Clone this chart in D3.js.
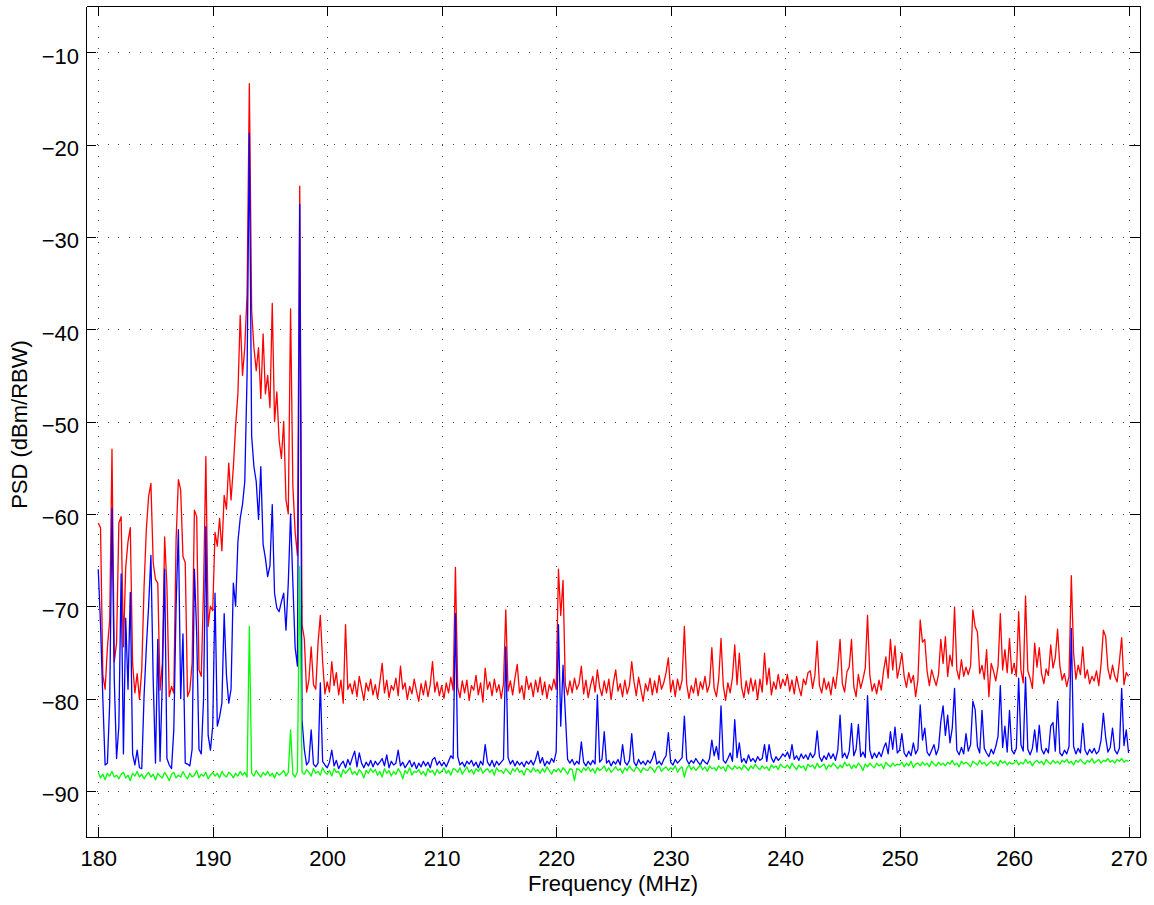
<!DOCTYPE html>
<html>
<head>
<meta charset="utf-8">
<script src="https://cdn.jsdelivr.net/npm/d3@7"></script>
<style>
  body { margin: 0; background: #fff; }
  svg { display: block; }
  text { font-family: "Liberation Sans", Arial, Helvetica, sans-serif; }
</style>
</head>
<body>
<div id="chart"></div>
<script>
// spectrum sampled every 0.2 MHz from 180 to 270 MHz (one row = 2 MHz)
const fStart = 180, fStep = 0.2;

const redPsd = [
  -61.0, -61.5, -77.5, -79.0, -74.5, -71.5, -53.0, -76.0, -74.0, -61.0, // 180
  -60.3, -74.4, -65.8, -63.0, -61.5, -76.2, -79.4, -77.3, -80.1, -76.9, // 182
  -68.0, -61.7, -58.1, -56.7, -65.3, -67.1, -67.5, -79.1, -76.2, -62.5, // 184
  -67.9, -79.8, -78.7, -79.4, -62.8, -56.3, -57.4, -64.6, -65.3, -79.8, // 186
  -79.1, -76.2, -59.6, -60.3, -76.9, -77.6, -68.0, -53.8, -72.2, -70.0, // 188
  -70.5, -62.0, -63.5, -60.5, -64.0, -58.0, -59.5, -54.5, -58.5, -55.0, // 190
  -50.5, -47.0, -38.5, -45.0, -42.0, -36.2, -13.4, -38.0, -42.0, -44.5, // 192
  -42.0, -47.5, -40.5, -47.0, -45.0, -48.5, -37.2, -50.0, -46.8, -52.0, // 194
  -54.0, -50.0, -58.5, -60.0, -37.8, -57.0, -62.0, -64.5, -24.5, -72.0, // 196
  -73.5, -79.3, -78.0, -74.4, -78.5, -79.0, -74.0, -71.0, -76.0, -79.5, // 198
  -78.2, -79.3, -76.0, -78.6, -77.2, -79.6, -78.0, -80.5, -72.0, -79.0, // 200
  -78.4, -79.5, -78.1, -79.8, -77.6, -78.9, -80.2, -78.3, -79.2, -77.9, // 202
  -79.6, -78.5, -80.0, -78.2, -76.2, -79.4, -78.0, -79.9, -78.6, -79.1, // 204
  -77.8, -79.7, -76.5, -79.0, -78.3, -80.1, -78.7, -79.5, -77.9, -79.2, // 206
  -80.3, -78.4, -79.6, -78.1, -79.8, -78.5, -76.0, -79.3, -78.2, -79.7, // 208
  -78.6, -80.0, -78.3, -79.4, -77.7, -79.1, -65.8, -78.8, -79.9, -78.1, // 210
  -79.4, -78.0, -80.2, -78.6, -79.1, -77.5, -79.6, -78.3, -80.4, -76.7, // 212
  -79.0, -78.2, -79.7, -77.9, -79.3, -78.5, -80.0, -78.4, -70.4, -79.2, // 214
  -78.1, -79.6, -77.8, -76.3, -79.4, -78.6, -80.1, -77.6, -79.0, -78.3, // 216
  -79.8, -78.0, -79.3, -77.7, -79.6, -78.2, -80.0, -78.5, -79.1, -77.9, // 218
  -79.0, -66.0, -71.0, -67.2, -78.5, -79.6, -78.1, -79.4, -77.8, -79.0, // 220
  -78.4, -76.5, -79.5, -78.0, -79.9, -78.6, -77.6, -79.3, -76.9, -78.8, // 222
  -79.7, -78.1, -79.4, -77.9, -80.1, -78.3, -76.9, -79.2, -78.4, -79.8, // 224
  -78.0, -79.5, -78.6, -76.0, -78.2, -79.7, -77.7, -79.0, -80.3, -78.4, // 226
  -79.2, -77.8, -79.6, -78.1, -79.4, -77.5, -79.0, -78.3, -77.2, -75.6, // 228
  -79.3, -78.0, -79.8, -77.9, -79.1, -78.0, -72.2, -78.4, -80.0, -78.6, // 230
  -79.4, -77.8, -79.7, -78.2, -79.0, -77.6, -79.3, -78.5, -74.5, -78.9, // 232
  -79.8, -77.9, -73.5, -78.6, -80.2, -78.3, -79.4, -77.7, -74.2, -78.5, // 234
  -75.1, -78.8, -79.9, -78.1, -79.5, -77.8, -79.2, -78.0, -80.1, -77.9, // 236
  -79.3, -75.1, -78.5, -76.7, -79.6, -78.2, -79.0, -77.4, -78.9, -77.9, // 238
  -78.6, -77.4, -79.2, -78.0, -79.5, -77.6, -78.8, -79.7, -77.9, -78.5, // 240
  -77.2, -77.0, -78.9, -77.5, -73.8, -78.6, -79.4, -77.8, -79.0, -78.2, // 242
  -79.6, -77.7, -78.9, -76.8, -73.6, -78.4, -79.3, -77.1, -76.6, -73.6, // 244
  -78.7, -79.8, -77.4, -78.9, -77.9, -76.7, -71.0, -77.5, -79.2, -78.4, // 246
  -79.5, -78.0, -79.1, -77.0, -75.5, -77.8, -73.6, -76.9, -74.3, -77.8, // 248
  -76.6, -75.1, -77.6, -78.8, -77.2, -78.3, -77.5, -79.8, -78.0, -71.5, // 250
  -73.9, -73.6, -77.0, -78.6, -76.9, -77.8, -78.6, -77.4, -73.6, -76.2, // 252
  -73.3, -77.6, -75.3, -76.5, -70.1, -76.9, -77.9, -75.8, -77.6, -76.6, // 254
  -77.4, -76.5, -70.4, -72.2, -72.8, -77.3, -76.4, -77.9, -74.7, -79.8, // 256
  -76.2, -77.0, -78.1, -76.5, -70.8, -76.9, -74.7, -77.2, -73.5, -77.3, // 258
  -76.2, -77.6, -70.6, -76.9, -78.3, -68.9, -77.0, -77.8, -78.9, -74.0, // 260
  -76.6, -74.5, -77.3, -78.4, -76.8, -77.5, -74.2, -76.7, -75.6, -72.5, // 262
  -76.5, -78.0, -77.3, -78.7, -77.6, -66.7, -75.1, -77.9, -76.4, -77.4, // 264
  -74.4, -77.8, -76.9, -78.4, -77.6, -78.1, -77.0, -78.6, -76.3, -72.6, // 266
  -73.3, -76.8, -77.9, -76.4, -77.6, -78.2, -76.0, -73.4, -78.5, -77.2, // 268
  -77.6
];

const bluePsd = [
  -66.0, -72.0, -80.0, -87.2, -87.0, -80.5, -59.4, -78.0, -86.5, -83.0, // 180
  -66.5, -86.0, -71.3, -79.0, -68.5, -86.0, -87.2, -85.6, -87.5, -87.6, // 182
  -79.8, -74.5, -70.0, -64.5, -78.0, -87.0, -73.6, -86.8, -78.0, -66.0, // 184
  -86.5, -87.2, -87.6, -83.4, -70.0, -61.7, -80.0, -73.0, -87.0, -87.1, // 186
  -87.3, -85.5, -66.0, -73.0, -85.5, -86.0, -80.0, -61.4, -84.0, -85.6, // 188
  -83.0, -68.6, -83.0, -82.0, -80.5, -70.8, -77.5, -80.5, -79.0, -67.5, // 190
  -70.0, -63.0, -60.5, -59.0, -56.5, -45.0, -18.8, -51.6, -54.9, -56.5, // 192
  -60.6, -54.9, -63.3, -64.8, -66.8, -65.6, -59.0, -68.6, -70.2, -70.6, // 194
  -69.5, -68.6, -72.6, -67.5, -60.0, -67.5, -74.5, -76.5, -26.5, -82.3, // 196
  -85.5, -87.2, -86.8, -83.4, -87.1, -87.4, -87.0, -78.3, -86.8, -87.2, // 198
  -87.5, -86.9, -85.6, -87.3, -86.7, -87.6, -87.1, -86.8, -87.5, -86.6, // 200
  -87.2, -86.4, -85.7, -87.4, -85.9, -87.0, -87.5, -86.9, -87.3, -86.7, // 202
  -87.4, -86.8, -87.2, -86.9, -86.5, -87.3, -86.1, -87.5, -86.8, -87.2, // 204
  -87.0, -85.6, -87.3, -86.9, -87.5, -87.1, -86.7, -87.4, -86.9, -87.6, // 206
  -87.0, -87.4, -86.8, -87.3, -86.9, -87.5, -86.6, -86.4, -87.2, -86.8, // 208
  -87.3, -86.9, -87.4, -86.8, -86.2, -86.5, -70.8, -86.3, -87.2, -86.9, // 210
  -87.4, -86.8, -87.1, -86.7, -87.3, -86.9, -87.5, -86.8, -87.2, -85.0, // 212
  -86.9, -87.3, -86.7, -87.4, -86.8, -87.2, -86.9, -86.6, -74.4, -86.4, // 214
  -87.1, -86.7, -87.3, -86.8, -87.2, -86.9, -87.4, -86.8, -87.1, -86.7, // 216
  -87.2, -86.6, -85.7, -87.0, -86.4, -87.3, -86.8, -87.1, -86.5, -86.9, // 218
  -85.8, -72.0, -83.0, -76.4, -81.6, -86.6, -87.0, -86.6, -87.2, -86.8, // 220
  -87.1, -84.7, -86.9, -87.3, -86.8, -87.2, -86.7, -87.1, -79.6, -86.9, // 222
  -86.6, -83.6, -87.0, -86.7, -87.3, -86.8, -87.1, -86.6, -87.2, -85.0, // 224
  -86.9, -87.2, -86.7, -83.8, -86.9, -87.3, -86.6, -87.1, -86.8, -87.2, // 226
  -86.7, -87.0, -86.5, -85.7, -87.1, -86.8, -87.2, -86.6, -86.2, -83.7, // 228
  -86.9, -87.2, -86.6, -87.0, -86.7, -86.4, -81.9, -86.6, -87.1, -86.7, // 230
  -87.0, -86.5, -86.9, -87.2, -86.6, -86.9, -87.1, -86.5, -84.5, -86.2, // 232
  -85.2, -86.6, -80.8, -86.7, -87.0, -86.5, -85.9, -86.8, -82.3, -86.4, // 234
  -84.8, -86.9, -86.5, -87.0, -86.1, -86.8, -86.5, -86.9, -86.3, -86.7, // 236
  -86.5, -85.0, -86.8, -85.0, -86.4, -86.9, -86.3, -86.7, -86.4, -86.0, // 238
  -86.3, -85.8, -86.5, -85.0, -86.6, -86.2, -86.7, -86.0, -86.5, -86.1, // 240
  -86.6, -85.9, -86.4, -86.0, -83.5, -86.3, -86.8, -86.2, -86.6, -85.9, // 242
  -86.5, -86.0, -86.7, -85.6, -81.8, -86.4, -85.9, -86.5, -85.7, -82.7, // 244
  -86.2, -85.5, -82.8, -86.3, -85.8, -86.4, -79.7, -85.6, -86.5, -85.9, // 246
  -86.4, -85.8, -86.3, -85.4, -84.8, -86.0, -83.6, -85.5, -83.1, -85.9, // 248
  -85.6, -83.8, -85.9, -86.3, -85.7, -86.2, -84.8, -86.0, -85.5, -80.7, // 250
  -84.5, -83.2, -85.8, -86.2, -85.6, -85.0, -86.1, -85.4, -82.5, -80.8, // 252
  -84.0, -81.8, -84.8, -83.2, -78.9, -85.6, -86.1, -85.3, -86.0, -83.8, // 254
  -85.7, -85.0, -80.3, -81.2, -85.2, -85.9, -81.3, -85.4, -85.9, -86.3, // 256
  -85.5, -86.0, -85.2, -84.1, -78.6, -85.3, -83.0, -85.8, -81.3, -85.6, // 258
  -86.0, -85.4, -77.8, -85.0, -85.7, -77.7, -85.5, -86.1, -85.4, -83.4, // 260
  -85.8, -82.9, -85.5, -86.0, -85.4, -85.9, -83.0, -82.6, -85.7, -80.3, // 262
  -85.9, -86.2, -85.6, -86.0, -85.2, -72.4, -85.2, -86.0, -85.4, -85.9, // 264
  -82.7, -85.6, -86.1, -85.5, -85.9, -85.4, -86.0, -85.7, -84.5, -81.6, // 266
  -84.2, -85.8, -85.3, -83.2, -85.6, -86.0, -85.4, -78.9, -85.1, -83.4, // 268
  -85.9
];

const greenPsd = [
  -88.0, -88.6, -88.2, -88.8, -88.1, -88.4, -87.9, -88.5, -88.3, -88.7, // 180
  -88.2, -88.0, -88.6, -88.3, -88.9, -88.1, -88.4, -87.9, -88.5, -88.2, // 182
  -88.7, -88.3, -88.0, -88.5, -88.2, -88.8, -88.1, -88.4, -88.6, -88.0, // 184
  -88.4, -88.9, -88.2, -88.0, -88.6, -88.3, -88.5, -87.9, -88.4, -88.7, // 186
  -88.1, -88.5, -88.3, -87.8, -88.6, -88.2, -88.4, -88.0, -88.7, -88.3, // 188
  -88.0, -88.4, -88.1, -88.6, -87.9, -88.3, -88.5, -88.0, -88.2, -88.6, // 190
  -88.1, -88.4, -87.9, -88.3, -88.0, -88.5, -72.2, -88.1, -88.4, -87.8, // 192
  -88.2, -88.5, -88.0, -88.3, -87.9, -88.4, -88.1, -88.6, -88.0, -88.3, // 194
  -88.1, -87.8, -88.4, -88.0, -83.4, -88.2, -88.5, -87.9, -65.7, -88.0, // 196
  -88.2, -87.7, -88.0, -88.4, -87.6, -88.1, -87.9, -88.3, -87.5, -88.0, // 198
  -88.2, -87.8, -88.4, -87.6, -88.0, -87.9, -88.5, -87.7, -88.1, -87.8, // 200
  -87.5, -88.2, -87.9, -88.3, -87.7, -88.0, -88.6, -87.8, -88.1, -87.6, // 202
  -88.0, -87.7, -88.3, -87.9, -88.5, -87.6, -88.1, -87.8, -88.4, -87.9, // 204
  -88.2, -87.6, -88.0, -88.7, -87.8, -88.1, -87.5, -88.3, -87.9, -88.0, // 206
  -87.7, -88.2, -87.9, -88.4, -87.6, -88.0, -87.8, -88.3, -87.7, -88.1, // 208
  -87.9, -87.5, -88.1, -87.8, -88.3, -87.6, -87.7, -88.0, -87.5, -88.2, // 210
  -87.8, -87.4, -88.0, -87.7, -88.2, -87.6, -87.9, -87.5, -88.1, -87.8, // 212
  -87.6, -88.0, -87.7, -88.3, -87.5, -87.9, -87.8, -88.1, -87.6, -87.9, // 214
  -88.2, -87.6, -87.9, -87.5, -88.0, -87.8, -88.3, -87.6, -87.7, -88.0, // 216
  -87.5, -87.9, -87.7, -88.1, -87.6, -88.0, -87.4, -87.8, -88.2, -87.7, // 218
  -87.9, -87.6, -88.0, -87.5, -87.8, -88.2, -87.6, -87.7, -88.9, -87.6, // 220
  -87.7, -88.0, -87.5, -87.8, -87.4, -87.9, -87.6, -88.1, -87.5, -87.8, // 222
  -87.6, -87.3, -87.9, -87.5, -88.0, -87.7, -87.4, -87.8, -87.6, -88.1, // 224
  -87.5, -87.8, -87.3, -87.7, -87.9, -87.4, -87.6, -88.0, -87.5, -87.7, // 226
  -87.8, -87.4, -87.6, -88.0, -87.5, -87.3, -87.9, -87.6, -87.4, -87.8, // 228
  -87.5, -87.7, -87.3, -88.0, -87.6, -87.4, -88.5, -87.6, -87.2, -87.7, // 230
  -87.4, -87.8, -87.5, -87.2, -87.7, -87.4, -87.9, -87.3, -87.6, -87.5, // 232
  -87.8, -87.3, -87.6, -87.4, -87.9, -87.2, -87.5, -87.7, -87.3, -87.6, // 234
  -87.4, -87.7, -87.2, -87.5, -87.8, -87.3, -87.6, -87.1, -87.5, -87.7, // 236
  -87.3, -87.6, -87.4, -87.8, -87.2, -87.5, -87.3, -87.7, -87.1, -87.4, // 238
  -87.5, -87.2, -87.6, -87.0, -87.4, -87.7, -87.2, -87.5, -87.3, -87.8, // 240
  -87.1, -87.4, -87.2, -87.6, -87.0, -87.5, -87.3, -87.1, -87.7, -87.2, // 242
  -87.4, -87.0, -87.3, -87.6, -87.2, -87.5, -86.9, -87.3, -87.1, -87.6, // 244
  -87.2, -87.5, -87.0, -87.3, -87.8, -87.1, -87.4, -87.0, -87.3, -87.5, // 246
  -87.0, -87.3, -87.1, -87.6, -86.9, -87.2, -87.4, -87.0, -87.3, -87.1, // 248
  -87.2, -86.9, -87.4, -87.0, -87.3, -86.8, -87.5, -87.1, -87.0, -87.3, // 250
  -86.9, -87.2, -87.0, -87.4, -86.8, -87.1, -87.3, -86.9, -87.2, -87.0, // 252
  -87.3, -86.9, -87.1, -86.7, -87.2, -87.0, -87.4, -86.8, -87.1, -86.9, // 254
  -87.1, -87.4, -86.8, -87.0, -87.2, -86.7, -87.1, -86.9, -87.3, -87.0, // 256
  -86.8, -87.1, -86.9, -87.3, -86.7, -87.0, -86.8, -87.2, -86.9, -87.1, // 258
  -87.0, -86.7, -87.2, -86.9, -87.1, -86.6, -87.0, -86.8, -87.3, -86.9, // 260
  -86.7, -87.0, -86.8, -87.2, -86.6, -86.9, -87.1, -86.7, -87.0, -86.8, // 262
  -87.1, -86.7, -86.9, -86.6, -87.0, -86.8, -87.2, -86.7, -86.9, -86.6, // 264
  -86.9, -87.1, -86.7, -86.9, -86.5, -87.0, -86.8, -86.6, -87.0, -86.7, // 266
  -86.8, -86.5, -86.9, -86.7, -87.0, -86.6, -86.8, -86.5, -86.9, -86.7, // 268
  -86.8
];

const xTicks = [180, 190, 200, 210, 220, 230, 240, 250, 260, 270];
const yTicks = [-90, -80, -70, -60, -50, -40, -30, -20, -10];

const width = 1154, height = 905;
const mLeft = 86, mRight = 1140, mTop = 6, mBottom = 837;

const x = d3.scaleLinear().domain([178.93, 271]).range([mLeft, mRight]);
const y = d3.scaleLinear().domain([-95, -5]).range([mBottom, mTop]);

const freq = redPsd.map((d, i) => fStart + i * fStep);

const svg = d3.select("#chart").append("svg")
    .attr("width", width)
    .attr("height", height);

svg.append("rect").attr("width", width).attr("height", height).attr("fill", "#fff");

// dotted grid
const grid = svg.append("g")
    .attr("stroke", "#444")
    .attr("stroke-width", 1)
    .attr("stroke-dasharray", "1,9.8")
    .attr("shape-rendering", "crispEdges");
grid.selectAll(".gx").data(xTicks).join("line")
    .attr("x1", d => Math.round(x(d)) + 0.5).attr("x2", d => Math.round(x(d)) + 0.5)
    .attr("y1", mBottom).attr("y2", mTop);
grid.selectAll(".gy").data(yTicks).join("line")
    .attr("x1", mLeft).attr("x2", mRight)
    .attr("y1", d => Math.round(y(d)) + 0.5).attr("y2", d => Math.round(y(d)) + 0.5);

// traces
const line = d3.line()
    .x((d, i) => x(freq[i]))
    .y(d => y(d));

const traces = [
    { values: redPsd, color: "#ff0000" },
    { values: bluePsd, color: "#0000ff" },
    { values: greenPsd, color: "#00ff00" }
];

svg.append("g")
    .selectAll("path")
    .data(traces)
    .join("path")
    .attr("fill", "none")
    .attr("stroke", d => d.color)
    .attr("stroke-width", 1.3)
    .attr("stroke-linejoin", "round")
    .attr("d", d => line(d.values));

// axes, ticks pointing inward on all four sides
const axisBottom = svg.append("g")
    .attr("transform", `translate(0,${mBottom})`)
    .call(d3.axisBottom(x).tickValues(xTicks).tickSizeInner(-10).tickSizeOuter(0).tickPadding(13));
const axisTop = svg.append("g")
    .attr("transform", `translate(0,${mTop})`)
    .call(d3.axisTop(x).tickValues(xTicks).tickSizeInner(-10).tickSizeOuter(0).tickFormat(""));
const axisLeft = svg.append("g")
    .attr("transform", `translate(${mLeft},0)`)
    .call(d3.axisLeft(y).tickValues(yTicks).tickSizeInner(-10).tickSizeOuter(0).tickPadding(7));
const axisRight = svg.append("g")
    .attr("transform", `translate(${mRight},0)`)
    .call(d3.axisRight(y).tickValues(yTicks).tickSizeInner(-10).tickSizeOuter(0).tickFormat(""));

[axisBottom, axisTop, axisLeft, axisRight].forEach(g => {
    g.selectAll("path, line").attr("stroke", "#000").attr("stroke-width", 1).attr("shape-rendering", "crispEdges");
    g.selectAll("text")
        .attr("fill", "#000")
        .style("font-size", "22px")
        .style("font-family", '"Liberation Sans", Arial, sans-serif');
});
axisLeft.selectAll("text").attr("dy", null).attr("y", 11);
axisBottom.selectAll("text").attr("dy", null).attr("y", 29);

// axis titles
svg.append("text")
    .attr("x", (mLeft + mRight) / 2)
    .attr("y", 891)
    .attr("text-anchor", "middle")
    .style("font-size", "22px")
    .text("Frequency (MHz)");

svg.append("text")
    .attr("transform", `translate(27,${(mTop + mBottom) / 2 + 3}) rotate(-90)`)
    .attr("text-anchor", "middle")
    .style("font-size", "22px")
    .text("PSD (dBm/RBW)");
</script>
</body>
</html>
